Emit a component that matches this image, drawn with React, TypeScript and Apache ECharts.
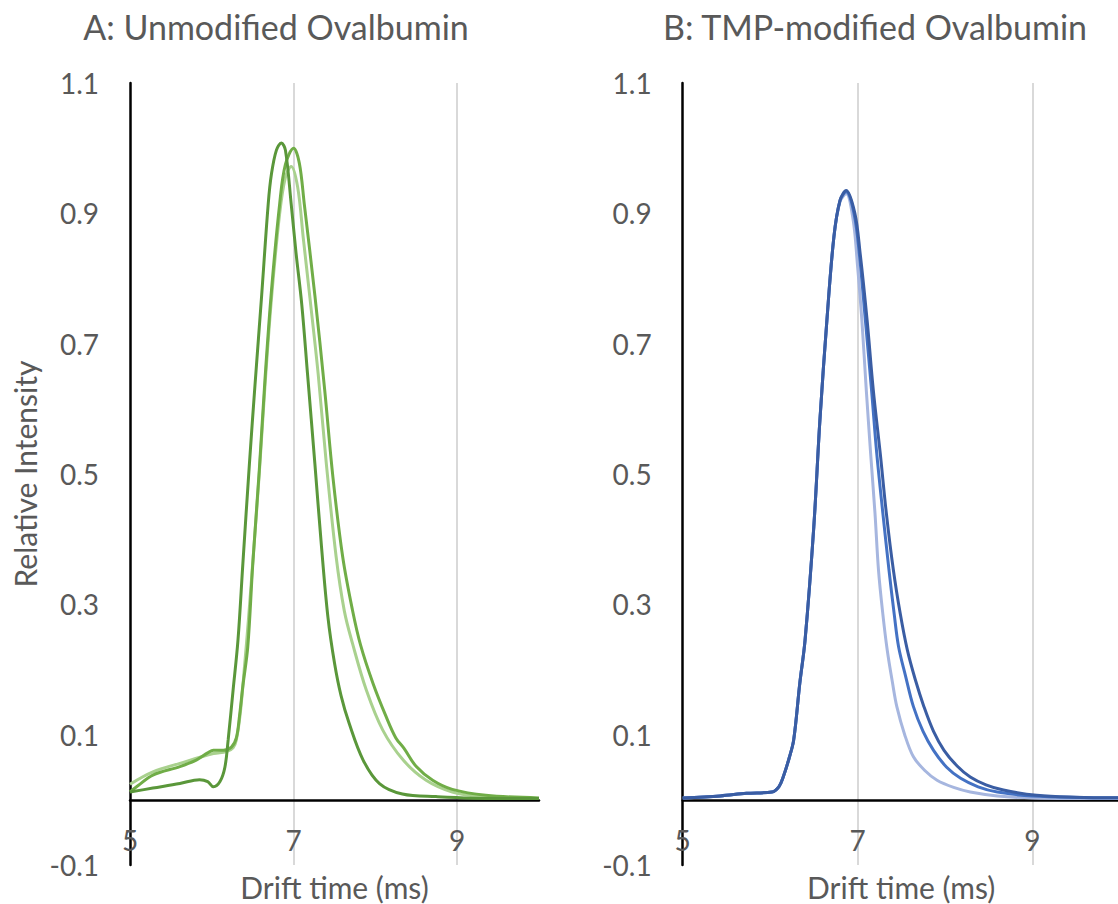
import React, { useEffect, useRef } from "react";
import * as echarts from "echarts";

const panelTitles = ["A: Unmodified Ovalbumin", "B: TMP-modified Ovalbumin"];
const xAxisName = "Drift time (ms)";
const yAxisName = "Relative Intensity";
const xRange = [5, 10];
const yRange = [-0.1, 1.1];

// Panel A (unmodified) – drift time (ms), relative intensity
const aDark: number[][] = [
  [5.0, 0.012], [5.28, 0.018], [5.61, 0.025], [5.85, 0.031], [5.95, 0.028], [6.02, 0.02],
  [6.1, 0.028], [6.16, 0.05], [6.2, 0.092], [6.26, 0.168], [6.32, 0.245], [6.38, 0.363],
  [6.46, 0.516], [6.53, 0.64], [6.61, 0.775], [6.69, 0.915], [6.73, 0.961], [6.79, 0.997],
  [6.85, 1.008], [6.9, 0.997], [6.97, 0.915], [7.03, 0.839], [7.1, 0.76], [7.17, 0.654],
  [7.26, 0.516], [7.34, 0.39], [7.42, 0.28], [7.5, 0.21], [7.58, 0.16], [7.68, 0.117],
  [7.85, 0.061], [8.05, 0.025], [8.33, 0.009], [8.74, 0.005], [9.5, 0.002], [10, 0.002],
];
const aMedium: number[][] = [
  [5.0, 0.012], [5.1, 0.022], [5.28, 0.038], [5.61, 0.051], [5.81, 0.061], [5.95, 0.072],
  [6.02, 0.076], [6.14, 0.076], [6.24, 0.081], [6.3, 0.095], [6.34, 0.13], [6.38, 0.175],
  [6.44, 0.235], [6.5, 0.36], [6.58, 0.505], [6.65, 0.645], [6.73, 0.782], [6.83, 0.915],
  [6.9, 0.975], [7.0, 1.0], [7.07, 0.977], [7.13, 0.915], [7.26, 0.774], [7.38, 0.629],
  [7.48, 0.496], [7.6, 0.373], [7.72, 0.291], [7.82, 0.237], [7.97, 0.179], [8.13, 0.128],
  [8.25, 0.095], [8.35, 0.079], [8.5, 0.051], [8.7, 0.03], [8.94, 0.016], [9.35, 0.007],
  [10, 0.003],
];
const aLight: number[][] = [
  [5.0, 0.024], [5.28, 0.043], [5.61, 0.056], [6.02, 0.071], [6.18, 0.074], [6.26, 0.08],
  [6.3, 0.092], [6.35, 0.135], [6.4, 0.205], [6.45, 0.28], [6.51, 0.38], [6.58, 0.5],
  [6.65, 0.635], [6.73, 0.77], [6.83, 0.9], [6.9, 0.955], [6.97, 0.972], [7.05, 0.94],
  [7.12, 0.86], [7.2, 0.77], [7.3, 0.654], [7.4, 0.516], [7.52, 0.373], [7.62, 0.29],
  [7.72, 0.24], [7.89, 0.168], [8.09, 0.107], [8.34, 0.061], [8.62, 0.03], [8.94, 0.012],
  [9.3, 0.005], [10, 0.002],
];

// Panel B (TMP-modified)
const bDark: number[][] = [
  [5.0, 0.003], [5.43, 0.006], [5.73, 0.01], [6.02, 0.012], [6.1, 0.02], [6.15, 0.035],
  [6.22, 0.065], [6.27, 0.092], [6.34, 0.179], [6.4, 0.245], [6.5, 0.419], [6.57, 0.583],
  [6.65, 0.736], [6.73, 0.864], [6.8, 0.92], [6.87, 0.935], [6.97, 0.9], [7.03, 0.839],
  [7.11, 0.736], [7.18, 0.63], [7.26, 0.532], [7.33, 0.44], [7.41, 0.353], [7.49, 0.285],
  [7.57, 0.23], [7.66, 0.185], [7.76, 0.143], [7.87, 0.105], [7.99, 0.076], [8.14, 0.052],
  [8.29, 0.035], [8.47, 0.023], [8.67, 0.015], [9.05, 0.007], [9.5, 0.004], [10, 0.003],
];
const bMedium: number[][] = [
  [5.0, 0.003], [5.43, 0.006], [5.73, 0.01], [6.02, 0.012], [6.1, 0.02], [6.15, 0.035],
  [6.22, 0.065], [6.27, 0.092], [6.34, 0.179], [6.4, 0.245], [6.5, 0.419], [6.57, 0.583],
  [6.65, 0.736], [6.73, 0.864], [6.8, 0.92], [6.87, 0.933], [6.96, 0.9], [7.02, 0.839],
  [7.09, 0.736], [7.16, 0.63], [7.22, 0.532], [7.29, 0.44], [7.36, 0.353], [7.42, 0.285],
  [7.47, 0.235], [7.55, 0.19], [7.64, 0.143], [7.75, 0.105], [7.87, 0.076], [8.02, 0.05],
  [8.18, 0.033], [8.38, 0.02], [8.6, 0.012], [9.0, 0.006], [10, 0.003],
];
const bLight: number[][] = [
  [5.0, 0.003], [5.43, 0.006], [5.73, 0.01], [6.02, 0.012], [6.1, 0.02], [6.15, 0.035],
  [6.22, 0.065], [6.27, 0.092], [6.34, 0.179], [6.4, 0.245], [6.5, 0.419], [6.57, 0.583],
  [6.65, 0.736], [6.73, 0.864], [6.8, 0.918], [6.87, 0.93], [6.95, 0.89], [7.0, 0.82],
  [7.05, 0.736], [7.1, 0.63], [7.15, 0.532], [7.2, 0.44], [7.24, 0.353], [7.29, 0.285],
  [7.34, 0.23], [7.4, 0.18], [7.45, 0.143], [7.54, 0.1], [7.64, 0.066], [7.77, 0.045],
  [7.91, 0.03], [8.1, 0.019], [8.29, 0.012], [8.6, 0.006], [9.0, 0.003], [10, 0.002],
];

const greens = ["#a9d18e", "#70ad47", "#5a973a"];
const blues = ["#a6b6df", "#4472c4", "#3a5da3"];

const TEXT = "#595959";
const FONT = "Lato";
const FS_TICK = 28;
const FS_NAME = 30;
const FS_TITLE = 34;

function makeX(gridIndex: number) {
  return {
    type: "value",
    gridIndex,
    min: xRange[0],
    max: xRange[1],
    interval: 2,
    name: xAxisName,
    nameLocation: "middle",
    nameGap: 7,
    nameTextStyle: { color: TEXT, fontFamily: FONT, fontSize: FS_NAME },
    axisLine: { show: true, onZero: true, lineStyle: { color: "#000", width: 2.5 } },
    axisTick: { show: false },
    axisLabel: { margin: -39, showMaxLabel: false, color: TEXT, fontFamily: FONT, fontSize: FS_TICK },
    splitLine: { show: true, showMinLine: false, showMaxLine: false, lineStyle: { color: "#d9d9d9", width: 2 } },
  };
}

function makeY(gridIndex: number, withName: boolean) {
  return {
    type: "value",
    gridIndex,
    min: yRange[0],
    max: yRange[1],
    interval: 0.2,
    name: withName ? yAxisName : "",
    nameLocation: "middle",
    nameRotate: 90,
    nameGap: 90,
    nameTextStyle: { color: TEXT, fontFamily: FONT, fontSize: FS_NAME },
    axisLine: { show: true, onZero: false, lineStyle: { color: "#000", width: 2.5 } },
    axisTick: { show: false },
    axisLabel: {
      margin: 31,
      color: TEXT,
      fontFamily: FONT,
      fontSize: FS_TICK,
      formatter: (v: number) => v.toFixed(1),
    },
    splitLine: { show: false },
  };
}

function line(data: number[][], color: string, idx: number) {
  return {
    type: "line",
    xAxisIndex: idx,
    yAxisIndex: idx,
    data,
    smooth: 0.35,
    showSymbol: false,
    symbol: "none",
    lineStyle: { color, width: 3 },
    itemStyle: { color },
  };
}

export default function App() {
  const ref = useRef<HTMLDivElement>(null);
  useEffect(() => {
    const chart = echarts.init(ref.current!, null, { renderer: "svg" });
    chart.setOption({
      animation: false,
      backgroundColor: "#ffffff",
      grid: [
        { left: 130, top: 83, width: 409, height: 782, outerBoundsMode: "none", containLabel: false },
        { left: 682.7, top: 83, width: 437, height: 782, outerBoundsMode: "none", containLabel: false },
      ],
      xAxis: [makeX(0), makeX(1)],
      yAxis: [makeY(0, true), makeY(1, false)],
      graphic: [
        {
          type: "text",
          x: 276,
          y: 26,
          style: { text: panelTitles[0], fill: TEXT, font: `${FS_TITLE}px ${FONT}`, align: "center", verticalAlign: "middle" },
        },
        {
          type: "text",
          x: 875,
          y: 26,
          style: { text: panelTitles[1], fill: TEXT, font: `${FS_TITLE}px ${FONT}`, align: "center", verticalAlign: "middle" },
        },
      ],
      series: [
        line(aLight, greens[0], 0),
        line(aMedium, greens[1], 0),
        line(aDark, greens[2], 0),
        line(bLight, blues[0], 1),
        line(bMedium, blues[1], 1),
        line(bDark, blues[2], 1),
      ],
    });
    return () => chart.dispose();
  }, []);
  return (
    <div
      ref={ref}
      style={{ position: "fixed", left: 0, top: 0, width: "1118px", height: "904px", background: "#fff" }}
    />
  );
}
